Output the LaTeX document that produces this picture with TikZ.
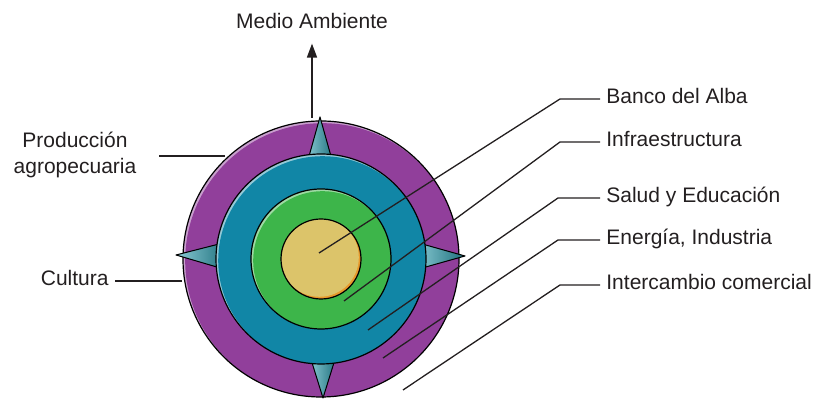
\documentclass[tikz,border=0pt]{standalone}
\usepackage{fontspec}
\setmainfont{Liberation Sans}
\usetikzlibrary{arrows.meta,positioning}
\definecolor{ringpurple}{HTML}{913F9B}
\definecolor{ringblue}{HTML}{1186A6}
\definecolor{ringgreen}{HTML}{3DB54A}
\definecolor{coreyellow}{HTML}{DCC46A}
\definecolor{corerim}{HTML}{E8992C}
\definecolor{spiketeal}{HTML}{2BA0B2}
\definecolor{inkgray}{HTML}{231F20}

\begin{document}
\begin{tikzpicture}[
  x=0.5pt,y=-0.5pt,
  ring/.style={circle,draw=black,line width=0.6pt,inner sep=0pt,outer sep=0pt},
  bevel/.style n args={3}{fill=#2,path picture={
    \fill[#1] ([shift={(0.8pt,-0.8pt)}]path picture bounding box.center) circle[radius=#3-0.3pt];}},
  rim/.style n args={3}{fill=#2,path picture={
    \fill[#1] ([shift={(-0.8pt,0.8pt)}]path picture bounding box.center) circle[radius=#3-0.3pt];}},
  spike/.style={left color=spiketeal!55!white,right color=spiketeal!70!black,draw=black,line width=0.5pt,line join=round},
  lbl/.style={font=\fontsize{10.5}{12.6}\selectfont,text=inkgray,inner sep=3pt},
  tag/.style={lbl,text height=7.6pt,text depth=2.6pt},
  leader/.style={line width=0.65pt,inkgray},
  up/.style={-{Triangle[length=7pt,width=5pt]},line width=0.85pt,inkgray,shorten >=1.5pt}
]
\useasboundingbox (0,0) rectangle (816,399);
\node[ring,minimum size=138pt,bevel={ringpurple}{ringpurple!50!white}{69pt}] (outer) at (321,259) {};
\filldraw[spike] (306,167) -- (320,117) -- (334,167) -- cycle;
\filldraw[spike] (415,242) -- (465,256) -- (415,270) -- cycle;
\filldraw[spike] (309,353) -- (323,398) -- (337,353) -- cycle;
\filldraw[spike] (227,242) -- (176,255) -- (227,270) -- cycle;
\node[ring,minimum size=105pt,bevel={ringblue}{ringblue!45!white}{52.5pt}] (middle) at (outer.center) {};
\node[ring,minimum size=70pt,bevel={ringgreen}{ringgreen!50!white}{35pt}] (inner) at (outer.center) {};
\node[ring,minimum size=40pt,rim={coreyellow}{corerim}{20pt}] (core) at (outer.center) {};

\node[tag] (medio) at (312,24) {Medio Ambiente};
\coordinate (medioFoot) at (312,118);
\draw[up] (medioFoot) -- (medio.south);

\node[lbl,align=center] (prod) at (75,155) {Producción\\agropecuaria};
\coordinate (prodEnd) at (225,156);
\draw[leader] (prodEnd) -- ([xshift=8pt]prod.east |- prodEnd);
\node[tag,anchor=east] (cultura) at (115,281) {Cultura};
\coordinate (culturaEnd) at (182,281);
\draw[leader] (culturaEnd) -- (cultura.east);

\node[tag,anchor=west] (banco) at (600,99) {Banco del Alba};
\coordinate (bancoEnd) at (319,253);
\draw[leader] (banco.west) -- ++(-40,0) -- (bancoEnd);
\node[tag,anchor=west] (infra) at (600,142) {Infraestructura};
\coordinate (infraEnd) at (344,301);
\draw[leader] (infra.west) -- ++(-40,0) -- (infraEnd);
\node[tag,anchor=west] (salud) at (600,198) {Salud y Educación};
\coordinate (saludEnd) at (368,330);
\draw[leader] (salud.west) -- ++(-42,0) -- (saludEnd);
\node[tag,anchor=west] (energia) at (600,240) {Energía, Industria};
\coordinate (energiaEnd) at (383,358);
\draw[leader] (energia.west) -- ++(-42,0) -- (energiaEnd);
\node[tag,anchor=west] (comercio) at (600,285) {Intercambio comercial};
\coordinate (comercioEnd) at (403,390);
\draw[leader] (comercio.west) -- ++(-40,0) -- (comercioEnd);
\end{tikzpicture}
\end{document}
